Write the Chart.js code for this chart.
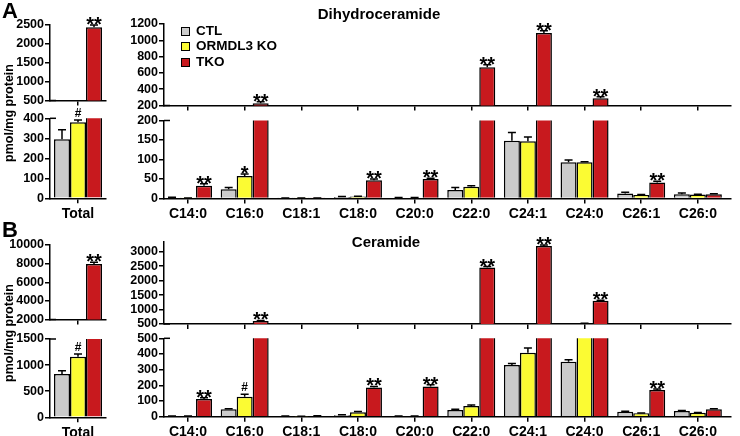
<!DOCTYPE html>
<html>
<head>
<meta charset="utf-8">
<script src="https://cdn.jsdelivr.net/npm/chart.js@4.4.1/dist/chart.umd.min.js"></script>
<style>
body{margin:0;background:#fff;}
#wrap{position:relative;width:740px;height:436px;overflow:hidden;font-family:"Liberation Sans",Arial,sans-serif;font-weight:bold;color:#000;}
#wrap canvas{position:absolute;left:0;top:0;}
.txt{position:absolute;white-space:nowrap;line-height:1;}
.ylab{position:absolute;width:180px;text-align:center;font-size:12.5px;line-height:16px;transform:rotate(-90deg);}
.title{position:absolute;width:200px;text-align:center;font-size:15px;line-height:16px;}
.leg{position:absolute;left:181px;font-size:13.5px;line-height:16px;}
.leg span{display:inline-block;width:9px;height:9px;border:1.5px solid #000;box-sizing:border-box;margin-right:6px;vertical-align:-1px;}
</style>
</head>
<body>
<div id="wrap">
  <div class="txt" style="left:2px;top:0px;font-size:22px;">A</div>
  <div class="txt" style="left:2px;top:219px;font-size:22px;">B</div>
  <div class="ylab" style="left:-81px;top:105px;">pmol/mg protein</div>
  <div class="ylab" style="left:-81px;top:325px;">pmol/mg protein</div>
  <div class="title" style="left:279px;top:6px;">Dihydroceramide</div>
  <div class="title" style="left:286px;top:234px;">Ceramide</div>
  <div class="leg" style="top:23px;"><span style="background:#cbcbcb"></span>CTL</div>
  <div class="leg" style="top:38px;"><span style="background:#fbfb33"></span>ORMDL3 KO</div>
  <div class="leg" style="top:54px;"><span style="background:#c8191e"></span>TKO</div>
</div>
<script>
const series = ['CTL', 'ORMDL3 KO', 'TKO'];
const colors = ['#cbcbcb', '#fbfb33', '#c8191e'];
const species = ['C14:0', 'C16:0', 'C18:1', 'C18:0', 'C20:0', 'C22:0', 'C24:1', 'C24:0', 'C26:1', 'C26:0'];
const totalCat = ['Total'];

// Dihydroceramide, pmol/mg protein (mean, SEM)
const dhCtl    = [2, 24, 1, 4, 2, 22, 148, 93, 13, 11];
const dhCtlErr = [1, 4, 0.5, 1, 0.5, 6, 21, 6, 3, 3];
const dhOrm    = [1, 58, 1, 5, 2, 30, 147, 93, 9, 10];
const dhOrmErr = [0.5, 5, 0.5, 1, 0.5, 3, 11, 1, 1, 1];
const dhTko    = [33, 227, 1, 47, 50, 670, 1090, 290, 41, 11];
const dhTkoErr = [5, 18, 0.5, 3, 2, 30, 28, 16, 3, 1];
const dhOrmMarks = ['', '*', '', '', '', '', '', '', '', ''];
const dhTkoMarks = ['**', '**', '', '**', '**', '**', '**', '**', '**', ''];
const dhTotal = [295, 380, 2440];
const dhTotalErr = [48, 12, 60];
const dhTotalMarks = ['', '#', '**'];

// Ceramide, pmol/mg protein (mean, SEM)
const cerCtl    = [4, 47, 3, 10, 3, 43, 330, 351, 32, 36];
const cerCtlErr = [1, 3, 1, 2, 1, 4, 10, 12, 3, 3];
const cerOrm    = [3, 128, 2, 28, 3, 68, 408, 520, 22, 25];
const cerOrmErr = [1, 15, 1, 5, 1, 6, 30, 3, 2, 2];
const cerTko    = [113, 604, 5, 187, 192, 2460, 3197, 1306, 170, 47];
const cerTkoErr = [8, 20, 1, 6, 12, 30, 35, 20, 6, 3];
const cerOrmMarks = ['', '#', '', '', '', '', '', '', '', ''];
const cerTkoMarks = ['**', '**', '', '**', '**', '**', '**', '**', '**', ''];
const cerTotal = [830, 1160, 7950];
const cerTotalErr = [60, 55, 200];
const cerTotalMarks = ['', '#', '**'];

// tick labels of the broken axes
const dhTotalTicksUp = [500, 1000, 1500, 2000, 2500];
const dhTotalTicksLow = [0, 100, 200, 300, 400];
const dhTicksUp = [200, 400, 600, 800, 1000, 1200];
const dhTicksLow = [0, 50, 100, 150, 200];
const cerTotalTicksUp = [2000, 4000, 6000, 8000, 10000];
const cerTotalTicksLow = [0, 500, 1000, 1500];
const cerTicksUp = [500, 1000, 1500, 2000, 2500, 3000];
const cerTicksLow = [0, 100, 200, 300, 400, 500];

const wrap = document.getElementById('wrap');
const FONT = '"Liberation Sans", Arial, sans-serif';

// error bars, significance marks and the axis break marks
const errPlugin = {
  id: 'errs',
  afterDatasetsDraw(chart, args, opts) {
    const ctx = chart.ctx, ys = chart.scales.y, area = chart.chartArea;
    ctx.save();
    ctx.strokeStyle = '#000';
    ctx.fillStyle = '#000';
    ctx.lineWidth = 1.5;
    chart.data.datasets.forEach((ds, k) => {
      chart.getDatasetMeta(k).data.forEach((bar, j) => {
        const p = ds.data[j];
        if (p.y > ys.max) return;
        const y0 = ys.getPixelForValue(p.y), y1 = ys.getPixelForValue(p.y + p.e);
        ctx.beginPath();
        ctx.moveTo(bar.x, y0); ctx.lineTo(bar.x, y1);
        ctx.moveTo(bar.x - 4, y1); ctx.lineTo(bar.x + 4, y1);
        ctx.stroke();
        if (p.m) {
          ctx.textAlign = 'center';
          ctx.textBaseline = 'alphabetic';
          if (p.m.indexOf('*') >= 0) {
            ctx.font = 'bold 20px ' + FONT;
            ctx.fillText(p.m, bar.x, y1 + 6);
          } else {
            ctx.font = 'bold 12px ' + FONT;
            ctx.fillText(p.m, bar.x, y1 - 3);
          }
        }
      });
    });
    if (opts.brk) {
      const y = opts.brk === 'top' ? area.top : area.bottom;
      ctx.beginPath();
      ctx.moveTo(area.left, y); ctx.lineTo(area.left + 6, y);
      ctx.stroke();
    }
    ctx.restore();
  }
};

function makeChart(c) {
  const cv = document.createElement('canvas');
  cv.width = 740; cv.height = 436;
  wrap.insertBefore(cv, wrap.firstChild);
  const yw = 44, xh = c.showX ? 24 : 0;
  const [l, t, r, b] = c.area;
  new Chart(cv, {
    type: 'bar',
    data: {
      datasets: series.map((s, k) => ({
        label: s,
        // bars lying wholly under an upper (broken) axis are left out there
        data: c.vals[k].map((v, i) => ({x: i, y: v, e: c.errs[k][i], m: c.marks[k][i]}))
                       .filter(p => p.y >= c.min),
        backgroundColor: colors[k],
        borderColor: '#000',
        borderWidth: 1.5,
        borderSkipped: 'start',
        inflateAmount: 0,
        barThickness: 16,
        clip: 0
      }))
    },
    options: {
      responsive: false,
      animation: false,
      events: [],
      layout: {padding: {left: l - yw, top: t, right: 740 - r, bottom: 436 - b - xh}},
      plugins: {legend: {display: false}, tooltip: {enabled: false}, errs: {brk: c.brk}},
      scales: {
        x: {
          type: 'linear', offset: false, min: c.xmin, max: c.xmax, display: c.showX,
          afterBuildTicks: s => { s.ticks = c.cats.map((n, i) => ({value: i})); },
          afterFit: s => { s.height = xh; },
          ticks: {autoSkip: false, maxRotation: 0, padding: 2, color: '#000',
                  font: {family: FONT, size: 14, weight: 'bold'},
                  callback: v => c.cats[Math.round(v)]},
          grid: {offset: false, drawOnChartArea: false, tickLength: 5, color: '#000', lineWidth: 1.5},
          border: {color: '#000', width: 1.5}
        },
        y: {
          min: c.min, max: c.max,
          afterBuildTicks: s => { s.ticks = c.ticks.map(v => ({value: v})); },
          afterFit: s => { s.width = yw; },
          ticks: {autoSkip: false, padding: 1, color: '#000', font: {family: FONT, size: 12.5, weight: 'bold'},
                  callback: v => String(v)},
          grid: {drawOnChartArea: false, tickLength: 5, color: '#000', lineWidth: 1.5},
          border: {color: '#000', width: 1.5}
        }
      }
    },
    plugins: [errPlugin]
  });
}

const dhVals = [dhCtl, dhOrm, dhTko], dhErrs = [dhCtlErr, dhOrmErr, dhTkoErr];
const dhMarks = [species.map(() => ''), dhOrmMarks, dhTkoMarks];
const cerVals = [cerCtl, cerOrm, cerTko], cerErrs = [cerCtlErr, cerOrmErr, cerTkoErr];
const cerMarks = [species.map(() => ''), cerOrmMarks, cerTkoMarks];
const tot = arr => arr.map(v => [v]);

// panel A
makeChart({area: [50, 25, 106, 100.5], min: 500, max: 2500, ticks: dhTotalTicksUp, cats: totalCat, xmin: -0.5, xmax: 0.5,
  vals: tot(dhTotal), errs: tot(dhTotalErr), marks: tot(dhTotalMarks), brk: 'bottom'});
makeChart({area: [50, 118.3, 106, 198.3], min: 0, max: 400, ticks: dhTotalTicksLow, cats: totalCat, xmin: -0.5, xmax: 0.5,
  vals: tot(dhTotal), errs: tot(dhTotalErr), marks: tot(dhTotalMarks), brk: 'top', showX: true});
makeChart({area: [164, 24, 731, 105.5], min: 200, max: 1200, ticks: dhTicksUp, cats: species, xmin: -0.424, xmax: 9.585,
  vals: dhVals, errs: dhErrs, marks: dhMarks, brk: 'bottom'});
makeChart({area: [164, 120.5, 731, 198.5], min: 0, max: 200, ticks: dhTicksLow, cats: species, xmin: -0.424, xmax: 9.585,
  vals: dhVals, errs: dhErrs, marks: dhMarks, brk: 'top', showX: true});

// panel B
makeChart({area: [50, 245, 106, 319.5], min: 2000, max: 10000, ticks: cerTotalTicksUp, cats: totalCat, xmin: -0.5, xmax: 0.5,
  vals: tot(cerTotal), errs: tot(cerTotalErr), marks: tot(cerTotalMarks), brk: 'bottom'});
makeChart({area: [50, 339, 106, 417.3], min: 0, max: 1500, ticks: cerTotalTicksLow, cats: totalCat, xmin: -0.5, xmax: 0.5,
  vals: tot(cerTotal), errs: tot(cerTotalErr), marks: tot(cerTotalMarks), brk: 'top', showX: true});
makeChart({area: [164, 241.7, 731, 324], min: 500, max: 3350, ticks: cerTicksUp, cats: species, xmin: -0.424, xmax: 9.585,
  vals: cerVals, errs: cerErrs, marks: cerMarks, brk: 'bottom'});
makeChart({area: [164, 338.3, 731, 416.7], min: 0, max: 500, ticks: cerTicksLow, cats: species, xmin: -0.424, xmax: 9.585,
  vals: cerVals, errs: cerErrs, marks: cerMarks, brk: 'top', showX: true});
</script>
</body>
</html>
